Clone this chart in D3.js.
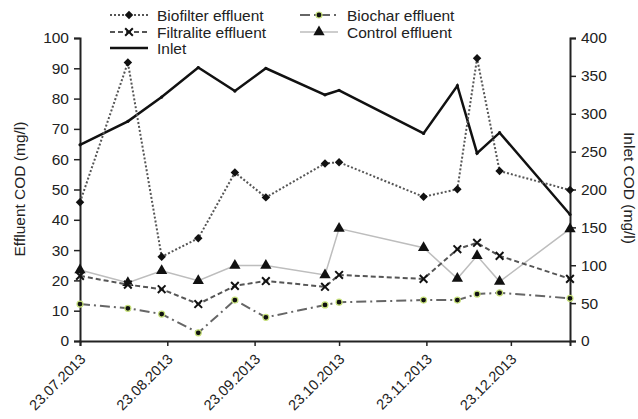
<!DOCTYPE html>
<html>
<head>
<meta charset="utf-8">
<script src="https://cdn.jsdelivr.net/npm/d3@7"></script>
<style>
  body { margin: 0; background: #fff; }
  svg { font-family: "Liberation Sans", Arial, sans-serif; }
</style>
</head>
<body>
<script>
var w = 638, h = 419;

// sampling dates
var dates = ["23.07.2013", "09.08.2013", "21.08.2013", "03.09.2013", "16.09.2013", "27.09.2013",
             "18.10.2013", "23.10.2013", "22.11.2013", "04.12.2013", "11.12.2013", "19.12.2013", "13.01.2014"];
var tickLabels = ["23.07.2013", "23.08.2013", "23.09.2013", "23.10.2013", "23.11.2013", "23.12.2013"];

// effluent COD, mg/l (left axis)
var biofilter  = [45.8, 91.9, 27.8, 33.9, 55.6, 47.4, 58.6, 59.0, 47.6, 50.1, 93.3, 56.1, 49.8];
var filtralite = [21.5, 18.6, 17.1, 12.2, 18.2, 19.8, 17.9, 21.8, 20.5, 30.3, 32.4, 28.1, 20.5];
var biochar    = [12.2, 10.8, 8.9, 2.7, 13.5, 7.8, 11.9, 12.8, 13.5, 13.5, 15.5, 15.9, 14.1];
var control    = [23.4, 19.2, 23.2, 19.9, 24.9, 24.9, 21.8, 37.1, 30.8, 20.6, 28.1, 19.6, 37.0];
// inlet COD, mg/l (right axis)
var inlet      = [259, 290, 322, 361, 330, 360, 325, 331, 274, 337, 248, 275, 167];

var parse = d3.timeParse("%d.%m.%Y");
var fmt = d3.timeFormat("%d.%m.%Y");
var fs = "15.5px";

var svg = d3.select("body").append("svg")
            .attr("width", w)
            .attr("height", h);

var x = d3.scaleTime()
          .domain([parse("23.07.2013"), parse("13.01.2014")])
          .range([80, 570]);
var yL = d3.scaleLinear().domain([0, 100]).range([341, 38]);
var yR = d3.scaleLinear().domain([0, 400]).range([341, 38]);

// axes
var gL = svg.append("g").attr("transform", "translate(80,0)")
            .call(d3.axisLeft(yL).tickValues(d3.range(0, 101, 10)).tickSize(6).tickPadding(5));
var gR = svg.append("g").attr("transform", "translate(570,0)")
            .call(d3.axisRight(yR).tickValues(d3.range(0, 401, 50)).tickSize(6).tickPadding(5));
var gX = svg.append("g").attr("transform", "translate(0,341)")
            .call(d3.axisBottom(x).tickValues(tickLabels.map(parse)).tickFormat(fmt).tickSize(5));

[gL, gR, gX].forEach(function(g){
    g.select(".domain").attr("stroke", "#222").attr("stroke-width", 2);
    g.selectAll(".tick line").attr("stroke", "#222").attr("stroke-width", 1.5);
    g.selectAll("text").attr("fill", "#222").style("font-size", fs);
});
gX.selectAll("text")
  .style("font-size", "14.5px")
  .attr("text-anchor", "end")
  .attr("x", 0).attr("y", 0).attr("dy", null)
  .attr("transform", "translate(6,19) rotate(-45)");

svg.append("text")
   .attr("transform", "translate(25,189) rotate(-90)")
   .attr("text-anchor", "middle")
   .style("font-size", fs).attr("fill", "#222")
   .text("Effluent COD (mg/l)");
svg.append("text")
   .attr("transform", "translate(624,188) rotate(90)")
   .attr("text-anchor", "middle")
   .style("font-size", fs).attr("fill", "#222")
   .text("Inlet COD (mg/l)");

// markers
function marker(g, type, cx, cy){
    if(type == "diamond"){
        g.append("path").attr("d", d3.symbol().type(d3.symbolSquare).size(36)())
         .attr("transform", "translate(" + cx + "," + cy + ") rotate(45)").attr("fill", "#111");
    } else if(type == "cross"){
        g.append("path").attr("d", d3.symbol().type(d3.symbolX).size(40)())
         .attr("transform", "translate(" + cx + "," + cy + ")")
         .attr("fill", "none").attr("stroke", "#111").attr("stroke-width", 2);
    } else if(type == "dot"){
        g.append("circle").attr("cx", cx).attr("cy", cy).attr("r", 3)
         .attr("fill", "#111").attr("stroke", "#c6e07a").attr("stroke-width", 1.2);
    } else if(type == "triangle"){
        g.append("path").attr("d", d3.symbol().type(d3.symbolTriangle).size(55)())
         .attr("transform", "translate(" + cx + "," + cy + ")").attr("fill", "#111");
    } else if(type == "small"){
        g.append("circle").attr("cx", cx).attr("cy", cy).attr("r", 1.6).attr("fill", "#111");
    }
}

var series = [
    { name: "Control effluent",    values: control,    y: yL, stroke: "#bdbdbd", width: 1.5, dash: null,        mark: "triangle" },
    { name: "Biochar effluent",    values: biochar,    y: yL, stroke: "#666",    width: 2,   dash: "10,4,2,4",  mark: "dot" },
    { name: "Filtralite effluent", values: filtralite, y: yL, stroke: "#555",    width: 2,   dash: "5,3",       mark: "cross" },
    { name: "Inlet",               values: inlet,      y: yR, stroke: "#111",    width: 2.5, dash: null,        mark: "small" },
    { name: "Biofilter effluent",  values: biofilter,  y: yL, stroke: "#555",    width: 2,   dash: "2,2",       mark: "diamond" }
];

series.forEach(function(s){
    var line = d3.line()
                 .x(function(d, i){ return x(parse(dates[i])); })
                 .y(function(d){ return s.y(d); });
    svg.append("path")
       .datum(s.values)
       .attr("d", line)
       .attr("fill", "none")
       .attr("stroke", s.stroke)
       .attr("stroke-width", s.width)
       .attr("stroke-dasharray", s.dash);
    var g = svg.append("g");
    s.values.forEach(function(v, i){
        marker(g, s.mark, x(parse(dates[i])), s.y(v));
    });
});

// legend
var legend = [
    { name: "Biofilter effluent",  lx: 110, ly: 15 },
    { name: "Filtralite effluent", lx: 110, ly: 32 },
    { name: "Inlet",               lx: 110, ly: 48 },
    { name: "Biochar effluent",    lx: 300, ly: 15 },
    { name: "Control effluent",    lx: 300, ly: 32 }
];
legend.forEach(function(l){
    var s = series.filter(function(d){ return d.name == l.name; })[0];
    var g = svg.append("g");
    g.append("line")
     .attr("x1", l.lx).attr("x2", l.lx + 38).attr("y1", l.ly).attr("y2", l.ly)
     .attr("stroke", s.stroke).attr("stroke-width", s.width)
     .attr("stroke-dasharray", s.dash);
    if(s.mark != "small") marker(g, s.mark, l.lx + 19, l.ly);
    g.append("text")
     .attr("x", l.lx + 47).attr("y", l.ly + 5.5)
     .style("font-size", fs).attr("fill", "#222")
     .text(l.name);
});
</script>
</body>
</html>
